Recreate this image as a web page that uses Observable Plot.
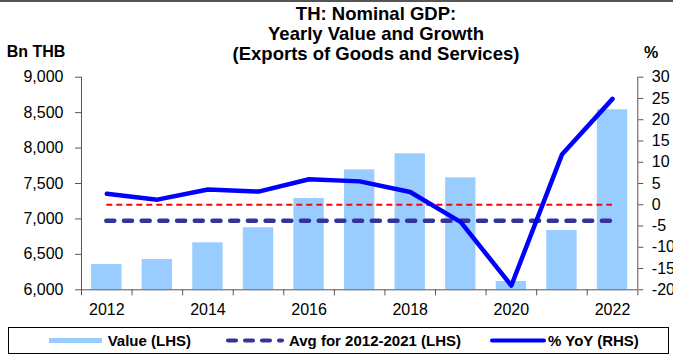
<!DOCTYPE html>
<html>
<head>
<meta charset="utf-8">
<script src="https://cdn.jsdelivr.net/npm/d3@7"></script>
<script src="https://cdn.jsdelivr.net/npm/@observablehq/plot@0.6"></script>
<style>
  html, body { margin: 0; padding: 0; background: #fff; }
  #wrap { position: relative; width: 673px; height: 356px; overflow: hidden; font-family: "Liberation Sans", Arial, sans-serif; color: #000; }
  #topline { position: absolute; left: 0; top: 0; width: 673px; height: 2px; background: #555; }
  #title { position: absolute; left: 0; top: 4.3px; width: 752px; text-align: center; font-weight: bold; font-size: 18.5px; line-height: 20px; }
  .unit { position: absolute; font-weight: bold; font-size: 16px; line-height: 16px; white-space: nowrap; }
  #chart { position: absolute; left: 0; top: 62px; }
  #legend { position: absolute; left: 8px; top: 327px; width: 659px; height: 25px; border: 1px solid #000; box-sizing: content-box; }
  .lg { position: absolute; top: 0; height: 25px; }
  .lt { position: absolute; font-weight: bold; font-size: 15px; line-height: 25px; top: 0; white-space: nowrap; }
</style>
</head>
<body>
<div id="wrap">
  <div id="topline"></div>
  <div id="title"></div>
  <div class="unit" id="ul" style="left:6.7px; top:43.8px;"></div>
  <div class="unit" id="ur" style="left:644px; top:44.8px;"></div>
  <div id="chart"></div>
  <div id="legend"></div>
</div>
<script>
// ---- Data ----
const titleLines = ["TH: Nominal GDP:", "Yearly Value and Growth", "(Exports of Goods and Services)"];
const leftUnit = "Bn THB";
const rightUnit = "%";
const years = [2012, 2013, 2014, 2015, 2016, 2017, 2018, 2019, 2020, 2021, 2022];
const values = [6357, 6427, 6663, 6875, 7288, 7693, 7919, 7580, 6117, 6837, 8540];
const yoy = [2.6, 1.2, 3.6, 3.1, 6.0, 5.5, 3.0, -4.1, -19.0, 11.8, 24.9];
const avgYears = [2012, 2021];
const leftTicks = [6000, 6500, 7000, 7500, 8000, 8500, 9000];
const rightTicks = [-20, -15, -10, -5, 0, 5, 10, 15, 20, 25, 30];
const labelYears = [2012, 2014, 2016, 2018, 2020, 2022];
const seriesNames = ["Value (LHS)", `Avg for ${avgYears[0]}-${avgYears[1]} (LHS)`, "% YoY (RHS)"];
const colors = { bar: "#99ccff", avg: "#333399", zero: "#ff0000", yoy: "#0000ff", axis: "#555" };

// ---- Derived ----
const data = years.map((year, i) => ({ year, value: values[i], yoy: yoy[i] }));
const avgVals = data.filter(d => d.year >= avgYears[0] && d.year <= avgYears[1]).map(d => d.value);
const avg = d3.mean(avgVals);
const lMin = leftTicks[0], lMax = leftTicks[leftTicks.length - 1];
const rMin = rightTicks[0], rMax = rightTicks[rightTicks.length - 1];
const toLeft = p => lMin + (p - rMin) / (rMax - rMin) * (lMax - lMin);
const fromLeft = v => rMin + (v - lMin) / (lMax - lMin) * (rMax - rMin);
const x0 = years[0] - 0.5, x1 = years[years.length - 1] + 0.5;
const boundaries = d3.range(years.length + 1).map(i => x0 + i);
const halfBar = 0.3;

document.getElementById("title").innerHTML = titleLines.map(t => `<div>${t}</div>`).join("");
document.getElementById("ul").textContent = leftUnit;
document.getElementById("ur").textContent = rightUnit;

const chart = Plot.plot({
  width: 673,
  height: 265,
  marginTop: 14.7,
  marginBottom: 37.7,
  marginLeft: 81,
  marginRight: 35.7,
  style: { fontFamily: '"Liberation Sans", Arial, sans-serif', fontSize: "16px", color: "#000", background: "transparent", overflow: "visible" },
  x: { domain: [x0, x1], axis: null },
  y: { domain: [lMin, lMax], axis: null },
  marks: [
    Plot.rectY(data, { x1: d => d.year - halfBar, x2: d => d.year + halfBar, y1: lMin, y2: "value", fill: colors.bar }),
    Plot.ruleY([toLeft(0)], { x1: years[0], x2: years[years.length - 1], stroke: colors.zero, strokeWidth: 2, strokeDasharray: "6,4" }),
    Plot.ruleY([avg], { x1: years[0], x2: years[years.length - 1], stroke: colors.avg, strokeWidth: 4.5, strokeDasharray: "8,9.7", strokeLinecap: "round" }),
    Plot.line(data, { x: "year", y: d => toLeft(d.yoy), stroke: colors.yoy, strokeWidth: 4.5 }),
    Plot.ruleX([x0], { stroke: colors.axis }),
    Plot.ruleX([x1], { stroke: colors.axis }),
    Plot.ruleY([lMin], { stroke: colors.axis }),
    Plot.axisY({ anchor: "left", label: null, ticks: leftTicks, tickSize: 6, tickPadding: 12, tickFormat: d3.format(","), stroke: colors.axis, fill: "#000" }),
    Plot.axisY({ anchor: "right", label: null, ticks: rightTicks.map(toLeft), tickSize: 5, tickPadding: 9, tickFormat: v => String(Math.round(fromLeft(v))), stroke: colors.axis, fill: "#000" }),
    Plot.axisX({ anchor: "bottom", label: null, ticks: boundaries, tickSize: 6, tickFormat: () => "", stroke: colors.axis }),
    Plot.axisX({ anchor: "bottom", label: null, ticks: labelYears, tickSize: 0, tickPadding: 14, tickFormat: d => String(d), fill: "#000" })
  ]
});
document.getElementById("chart").appendChild(chart);

// ---- Legend ----
const legend = document.getElementById("legend");
const items = [
  { name: seriesNames[0], sx: 40, sw: 53, tx: 98.7, swatch: `<rect x="0" y="10" width="53" height="5" fill="${colors.bar}"/>` },
  { name: seriesNames[1], sx: 217, sw: 58, tx: 280, swatch: `<line x1="2" y1="12.5" x2="56" y2="12.5" stroke="${colors.avg}" stroke-width="4" stroke-dasharray="8,9" stroke-linecap="round"/>` },
  { name: seriesNames[2], sx: 481, sw: 56, tx: 539, swatch: `<line x1="2" y1="12.5" x2="54" y2="12.5" stroke="${colors.yoy}" stroke-width="4" stroke-linecap="round"/>` }
];
legend.innerHTML = items.map(it =>
  `<svg class="lg" style="left:${it.sx}px" width="${it.sw}" height="25">${it.swatch}</svg>` +
  `<div class="lt" style="left:${it.tx}px">${it.name}</div>`
).join("");
</script>
</body>
</html>
